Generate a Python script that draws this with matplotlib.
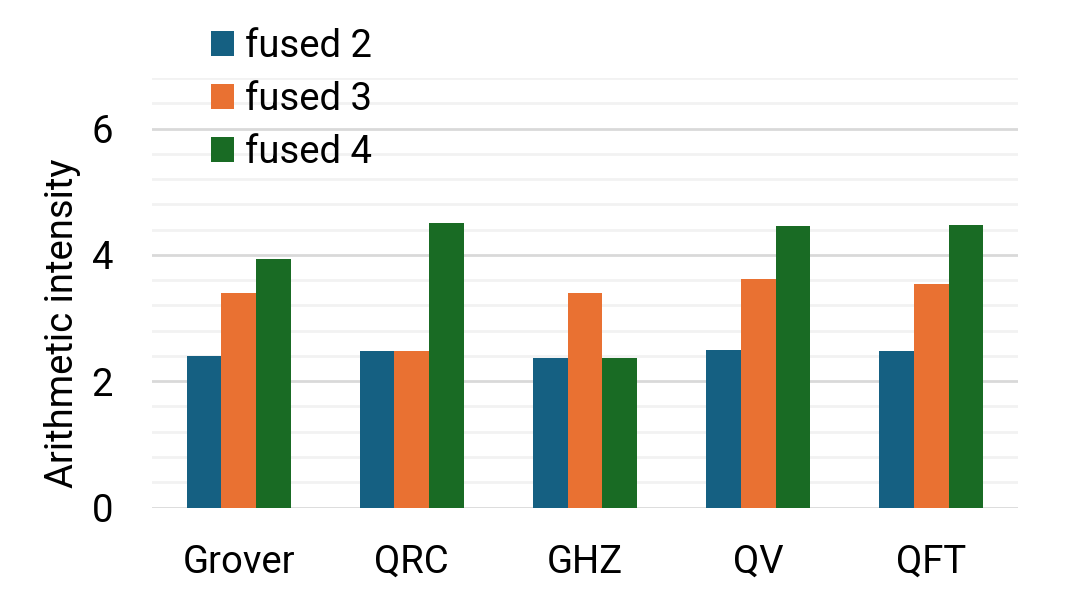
import numpy as np
import matplotlib
matplotlib.use("Agg")
import matplotlib.pyplot as plt
from matplotlib.ticker import MultipleLocator

categories = ["Grover", "QRC", "GHZ", "QV", "QFT"]
fused2 = [2.40, 2.47, 2.37, 2.50, 2.48]
fused3 = [3.39, 2.47, 3.39, 3.62, 3.54]
fused4 = [3.94, 4.51, 2.37, 4.45, 4.48]
series_labels = ["fused 2", "fused 3", "fused 4"]
colors = ["#156082", "#E97132", "#196B24"]

plt.rcParams["font.family"] = ["Roboto", "DejaVu Sans"]
fs = 27.5

fig = plt.figure(figsize=(10.81, 6.0), dpi=100)
ax = fig.add_axes([152 / 1081, 1 - 507.5 / 600, 866 / 1081, (507.5 - 78) / 600])

x = np.arange(len(categories))
width = 0.2
for i, (vals, lab, col) in enumerate(zip([fused2, fused3, fused4], series_labels, colors)):
    ax.bar(x + (i - 1) * width, vals, width, color=col, label=lab, zorder=3)

ax.set_xlim(-0.5, len(categories) - 0.5)
ax.set_ylim(0, 6.8)
ax.yaxis.set_major_locator(MultipleLocator(2))
ax.yaxis.set_minor_locator(MultipleLocator(0.4))
ax.grid(axis="y", which="major", color="#d9d9d9", linewidth=2, zorder=0)
ax.grid(axis="y", which="minor", color="#f2f2f2", linewidth=2, zorder=0)
ax.set_axisbelow(True)
for s in ax.spines.values():
    s.set_visible(False)
ax.tick_params(axis="both", which="both", length=0, labelsize=fs)
ax.tick_params(axis="y", pad=28)
ax.tick_params(axis="x", pad=26)
ax.set_xticks(x)
ax.set_xticklabels(categories)
ax.set_ylabel("Arithmetic intensity", fontsize=fs)
ax.yaxis.set_label_coords(-0.082, 0.43)

ax.legend(loc="upper left", bbox_to_anchor=(211 / 1081, 1 - 28 / 600),
          bbox_transform=fig.transFigure, frameon=False, fontsize=fs,
          handlelength=0.6, handleheight=0.6, handletextpad=0.3,
          labelspacing=0.42, borderaxespad=0, borderpad=0)

fig.savefig("out.png", dpi=100)
